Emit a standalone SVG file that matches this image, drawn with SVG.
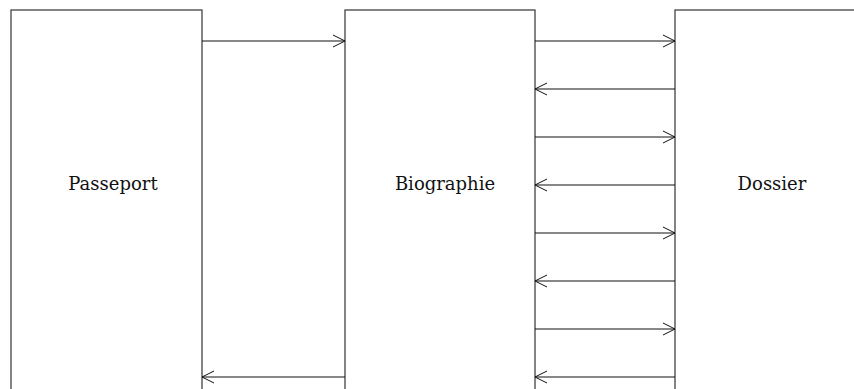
<svg xmlns="http://www.w3.org/2000/svg" width="854" height="389" viewBox="0 0 854 389">
<style>
.box{fill:#fff;stroke:#333;stroke-width:1.2}
.lbl{font-family:"DejaVu Serif","Liberation Serif",serif;font-size:18px;fill:#111;text-anchor:middle}
.c{stroke:#111;stroke-width:1;fill:none}
.ah{stroke:#111;stroke-width:1;fill:none}
</style>
<defs>
<marker id="arr" markerWidth="14" markerHeight="14" refX="12" refY="7" orient="auto" markerUnits="userSpaceOnUse">
<path class="ah" d="M0,1 L12,7 L0,13"/>
</marker>
</defs>
<rect width="854" height="389" fill="#fff"/>
<g id="passeport"><rect class="box" x="11" y="10" width="191" height="400"/><text class="lbl" x="113" y="190">Passeport</text></g>
<g id="biographie"><rect class="box" x="345" y="10" width="190" height="400"/><text class="lbl" x="445" y="190">Biographie</text></g>
<g id="dossier"><rect class="box" x="675" y="10" width="191" height="400"/><text class="lbl" x="772" y="190">Dossier</text></g>
<g id="connectors">
<line class="c" x1="202" y1="41" x2="345" y2="41" marker-end="url(#arr)"/>
<line class="c" x1="345" y1="377" x2="202" y2="377" marker-end="url(#arr)"/>
<line class="c" x1="535" y1="41" x2="675" y2="41" marker-end="url(#arr)"/>
<line class="c" x1="675" y1="89" x2="535" y2="89" marker-end="url(#arr)"/>
<line class="c" x1="535" y1="137" x2="675" y2="137" marker-end="url(#arr)"/>
<line class="c" x1="675" y1="185" x2="535" y2="185" marker-end="url(#arr)"/>
<line class="c" x1="535" y1="233" x2="675" y2="233" marker-end="url(#arr)"/>
<line class="c" x1="675" y1="281" x2="535" y2="281" marker-end="url(#arr)"/>
<line class="c" x1="535" y1="329" x2="675" y2="329" marker-end="url(#arr)"/>
<line class="c" x1="675" y1="377" x2="535" y2="377" marker-end="url(#arr)"/>
</g>
</svg>
